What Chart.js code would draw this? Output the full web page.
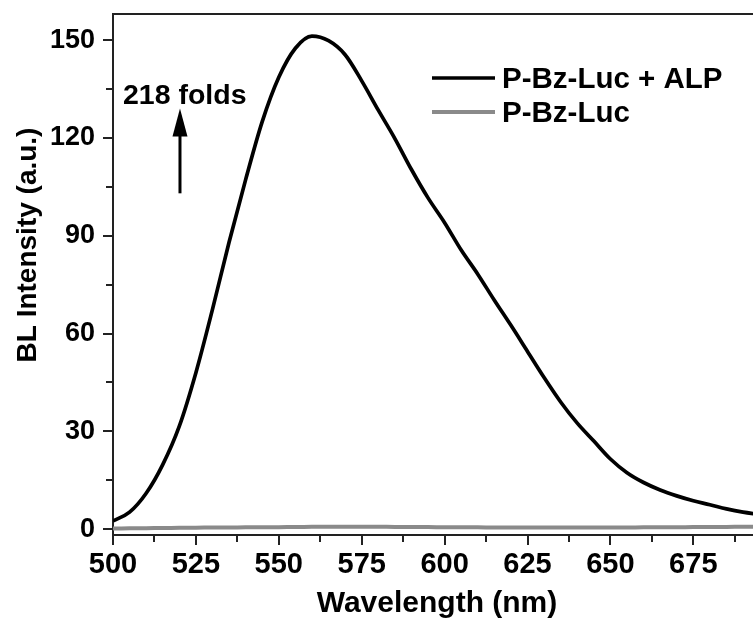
<!DOCTYPE html>
<html><head><meta charset="utf-8">
<script src="https://cdn.jsdelivr.net/npm/chart.js@4.4.1/dist/chart.umd.min.js"></script>
<style>html,body{margin:0;padding:0;background:#fff;}canvas{display:block;}</style>
</head><body>
<canvas id="c" width="753" height="622"></canvas>
<script>
const wavelengths = [500,505,510,515,520,525,530,535,540,545,550,555,560,565,570,575,580,585,590,595,600,605,610,615,620,625,630,635,640,645,650,655,660,665,670,675,680,685,690,695];
const alpIntensity = [2.5,5.2,11,19.8,31.6,48,67.4,88,107.2,125,138.6,147.5,151.2,149.8,145.5,137.5,128.5,119.8,110.3,101.6,94,85.6,78.2,70.2,62.5,54.5,46.5,39,32.5,27,21.5,17.3,14.3,12,10.2,8.7,7.5,6.2,5.2,4.5];
const probeIntensity = [0.2,0.25,0.3,0.35,0.4,0.45,0.5,0.52,0.55,0.58,0.6,0.65,0.7,0.7,0.7,0.7,0.7,0.68,0.65,0.62,0.6,0.57,0.55,0.52,0.5,0.5,0.5,0.5,0.5,0.5,0.5,0.52,0.55,0.57,0.6,0.62,0.65,0.68,0.7,0.7];
const xTicks = [500,525,550,575,600,625,650,675];
const xMinorTicks = [512.5,537.5,562.5,587.5,612.5,637.5,662.5,687.5];
const yTicks = [0,30,60,90,120,150];
const yMinorTicks = [15,45,75,105,135];
const seriesLabels = ['P-Bz-Luc + ALP','P-Bz-Luc'];
const seriesColors = ['#000000','#8a8a8a'];
const annotationText = '218 folds';
const arrowFrom = [520.2, 103];
const arrowTo = [520.2, 129];
const annotationPos = [503, 130.5];
const xTitle = 'Wavelength (nm)';
const yTitle = 'BL Intensity (a.u.)';

const FONT = "'Liberation Sans', Arial, Helvetica, sans-serif";
const AXIS = '#222';

const extras = {
  id: 'extras',
  afterDraw(chart) {
    const ctx = chart.ctx, a = chart.chartArea;
    const xs = chart.scales.x, ys = chart.scales.y;
    ctx.save();
    ctx.strokeStyle = AXIS; ctx.lineWidth = 2;
    ctx.beginPath(); ctx.moveTo(a.left - 1, a.top); ctx.lineTo(a.right, a.top); ctx.stroke();
    ctx.lineWidth = 2;
    ctx.beginPath();
    xMinorTicks.forEach(v => { const px = Math.round(xs.getPixelForValue(v)); ctx.moveTo(px, a.bottom); ctx.lineTo(px, a.bottom + 7); });
    yMinorTicks.forEach(v => { const py = Math.round(ys.getPixelForValue(v)); ctx.moveTo(a.left, py); ctx.lineTo(a.left - 7, py); });
    ctx.stroke();
    ctx.fillStyle = '#000';
    ctx.font = 'bold 30px ' + FONT;
    ctx.textAlign = 'center'; ctx.textBaseline = 'alphabetic';
    ctx.fillText(xTitle, (a.left + a.right) / 2 + 4, 612);
    ctx.save();
    ctx.translate(36, 245);
    ctx.rotate(-Math.PI / 2);
    ctx.font = 'bold 28px ' + FONT;
    ctx.fillText(yTitle, 0, 0);
    ctx.restore();
    ctx.font = 'bold 29.5px ' + FONT;
    ctx.textAlign = 'left';
    const legY = [78, 112];
    seriesLabels.forEach((lab, i) => {
      ctx.strokeStyle = seriesColors[i];
      ctx.lineWidth = i === 0 ? 3.5 : 4;
      ctx.beginPath(); ctx.moveTo(432, legY[i]); ctx.lineTo(495, legY[i]); ctx.stroke();
      ctx.fillStyle = '#000';
      ctx.fillText(lab, 502, legY[i] + 10);
    });
    ctx.font = 'bold 28.5px ' + FONT;
    ctx.fillText(annotationText, xs.getPixelForValue(annotationPos[0]), ys.getPixelForValue(annotationPos[1]));
    const ax = xs.getPixelForValue(arrowFrom[0]);
    const y0 = ys.getPixelForValue(arrowFrom[1]);
    const y1 = ys.getPixelForValue(arrowTo[1]);
    ctx.strokeStyle = '#000'; ctx.lineWidth = 3;
    ctx.beginPath(); ctx.moveTo(ax, y0); ctx.lineTo(ax, y1 + 20); ctx.stroke();
    ctx.fillStyle = '#000';
    ctx.beginPath(); ctx.moveTo(ax, y1); ctx.lineTo(ax - 7.5, y1 + 28); ctx.lineTo(ax + 7.5, y1 + 28); ctx.closePath(); ctx.fill();
    ctx.restore();
  }
};

new Chart(document.getElementById('c'), {
  type: 'line',
  data: {
    datasets: [
      { label: seriesLabels[0], data: wavelengths.map((w, i) => ({x: w, y: alpIntensity[i]})), borderColor: seriesColors[0], borderWidth: 3.7, pointRadius: 0, tension: 0.4, cubicInterpolationMode: 'monotone', fill: false },
      { label: seriesLabels[1], data: wavelengths.map((w, i) => ({x: w, y: probeIntensity[i]})), borderColor: seriesColors[1], borderWidth: 4, pointRadius: 0, tension: 0.4, fill: false }
    ]
  },
  options: {
    responsive: false,
    animation: false,
    layout: { padding: { left: 0, right: 0, top: 14, bottom: 0 } },
    plugins: { legend: { display: false }, tooltip: { enabled: false } },
    scales: {
      x: {
        type: 'linear', min: 500, max: 693,
        afterBuildTicks: s => { s.ticks = xTicks.map(v => ({value: v})); },
        afterFit: s => { s.height = 87; s.paddingLeft = 0; s.paddingRight = 0; },
        ticks: { color: '#000', font: { family: FONT, size: 29, weight: 'bold' }, padding: 3, maxRotation: 0, autoSkip: false },
        grid: { drawOnChartArea: false, drawTicks: true, tickLength: 10, color: AXIS, lineWidth: 2 },
        border: { display: true, color: AXIS, width: 2 }
      },
      y: {
        type: 'linear', min: -1.8, max: 158,
        afterBuildTicks: s => { s.ticks = yTicks.map(v => ({value: v})); },
        afterFit: s => { s.width = 113; s.paddingTop = 0; s.paddingBottom = 0; },
        ticks: { color: '#000', font: { family: FONT, size: 27, weight: 'bold' }, padding: 8, autoSkip: false },
        grid: { drawOnChartArea: false, drawTicks: true, tickLength: 10, color: AXIS, lineWidth: 2 },
        border: { display: true, color: AXIS, width: 2 }
      }
    }
  },
  plugins: [extras]
});
</script>
</body></html>
